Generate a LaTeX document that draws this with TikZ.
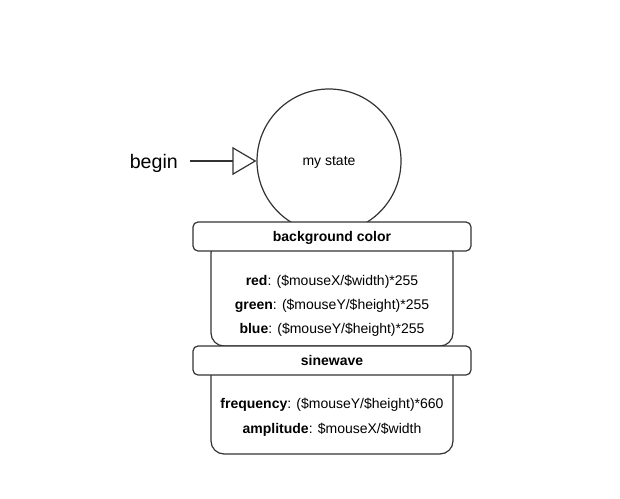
\documentclass[tikz,border=0pt]{standalone}
\usepackage{fontspec}
\setmainfont{Liberation Sans}
\usetikzlibrary{arrows.meta}
\definecolor{linec}{HTML}{333333}
\begin{document}
\begin{tikzpicture}[x=1pt,y=-1pt,
  every node/.style={text=black},
  lbl/.style={font=\fontsize{14}{16}\selectfont, inner sep=0pt},
  headbox/.style={draw=linec, line width=1.2pt, fill=white, rounded corners=5pt,
    minimum width=278pt, minimum height=29pt, inner sep=0pt, text height=10pt, text depth=1pt,
    font=\fontsize{14}{16}\selectfont\bfseries},
  bodybox/.style={draw=linec, line width=1.2pt, fill=white, rounded corners=13pt,
    minimum width=242pt, inner sep=0pt},
  statec/.style={circle, draw=linec, line width=1.2pt, fill=white, minimum size=144pt, inner sep=0pt,
    text height=10pt, text depth=1pt, font=\fontsize{14}{16}\selectfont}
]
\useasboundingbox (0,0) rectangle (620,498);

\node[statec] (state) at (329,161) {my state};
\node[font=\fontsize{19.6}{22}\selectfont, inner xsep=12pt, inner ysep=0pt, anchor=east] (begin) at (190,163) {begin};
\draw[linec, line width=1.2pt, -{Triangle[open, length=24pt, width=28pt, line width=1.2pt]}] (begin.east |- state.west) -- (state.west);

% background color box
\node[bodybox, minimum height=106pt] (body1) at (332,293) {};
\node[headbox] (head1) at (332,236.5) {background color};
\node[lbl] (red) at (332,281.5) {\textbf{red}: (\$mouseX/\$width)*255};
\node[lbl] (green) at (332,305.5) {\textbf{green}: (\$mouseY/\$height)*255};
\node[lbl] (blue) at (332,329.5) {\textbf{blue}: (\$mouseY/\$height)*255};

% sinewave box
\node[bodybox, minimum height=91pt] (body2) at (332,408.5) {};
\node[headbox] (head2) at (332,360.5) {sinewave};
\node[lbl] (freq) at (332,404.5) {\textbf{frequency}: (\$mouseY/\$height)*660};
\node[lbl] (amp) at (332,429.5) {\textbf{amplitude}: \$mouseX/\$width};
\end{tikzpicture}
\end{document}
